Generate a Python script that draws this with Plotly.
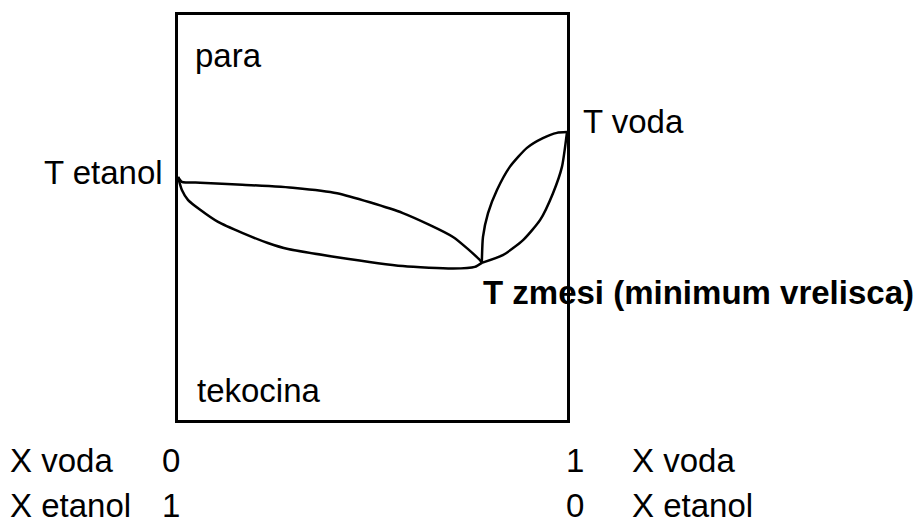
import plotly.graph_objects as go

# mole fraction of water (x) and temperature (arbitrary units, 0-100)
vap_left_x = [0, 0.010, 0.057, 0.165, 0.301, 0.409, 0.578, 0.707, 0.776, 0.781]
vap_left_T = [60.0, 58.8, 58.6, 58.1, 57.3, 56.0, 51.1, 45.2, 39.5, 38.8]

liq_left_x = [0, 0.010, 0.026, 0.057, 0.103, 0.165, 0.231, 0.283, 0.409, 0.578, 0.707, 0.763, 0.781]
liq_left_T = [60.0, 56.8, 54.3, 51.9, 48.9, 46.2, 43.7, 42.2, 40.2, 38.0, 37.4, 37.8, 38.8]

up_right_x = [0.781, 0.784, 0.797, 0.820, 0.853, 0.897, 0.938, 0.974, 1.0]
up_right_T = [38.8, 45.2, 51.1, 56.8, 62.5, 67.2, 69.6, 70.9, 71.1]

low_right_x = [0.781, 0.835, 0.887, 0.931, 0.964, 0.987, 1.0]
low_right_T = [38.8, 40.7, 44.4, 49.4, 56.0, 62.5, 71.1]

W, H = 920, 520
L, R, T, B = 178, 353, 15, 100
PW, PH = W - L - R, H - T - B

def px(x):
    return (x - L) / PW

def py(y):
    return (H - B - y) / PH

fig = go.Figure()
for xs, ts in [(vap_left_x, vap_left_T), (liq_left_x, liq_left_T),
               (up_right_x, up_right_T), (low_right_x, low_right_T)]:
    fig.add_trace(go.Scatter(x=xs, y=ts, mode="lines",
                             line=dict(color="black", width=2.5, shape="spline", smoothing=0.6),
                             hoverinfo="skip", showlegend=False))

FONT = dict(family="Liberation Sans, Arial, sans-serif", size=33, color="black")
BFONT = dict(family="Liberation Sans, Arial, sans-serif", size=33, color="black", weight="bold")

ann = [
    ("para", 194, 55, "left", FONT),
    ("tekocina", 196, 390, "left", FONT),
    ("T etanol", 164, 172, "right", FONT),
    ("T voda", 582, 122, "left", FONT),
    ("<b>T zmesi (minimum vrelisca)</b>", 482, 292, "left", BFONT),
    ("X voda", 9, 460, "left", FONT),
    ("0", 161, 460, "left", FONT),
    ("1", 565, 460, "left", FONT),
    ("X voda", 631, 460, "left", FONT),
    ("X etanol", 9, 505, "left", FONT),
    ("1", 161, 505, "left", FONT),
    ("0", 565, 505, "left", FONT),
    ("X etanol", 631, 505, "left", FONT),
]
for text, x, y, anc, f in ann:
    fig.add_annotation(text=text, x=px(x), y=py(y), xref="paper", yref="paper",
                       xanchor=anc, yanchor="middle", showarrow=False, font=f,
                       borderpad=0)

fig.update_xaxes(range=[0, 1], showline=True, mirror=True, linecolor="black", linewidth=2.5,
                 showgrid=False, zeroline=False, showticklabels=False, ticks="")
fig.update_yaxes(range=[0, 100], showline=True, mirror=True, linecolor="black", linewidth=2.5,
                 showgrid=False, zeroline=False, showticklabels=False, ticks="")
fig.update_layout(width=W, height=H, margin=dict(l=L, r=R, t=T, b=B),
                  paper_bgcolor="white", plot_bgcolor="white", showlegend=False)
fig.write_html("out.html", config={"displayModeBar": False},
               post_script="document.body.style.margin='0';document.body.style.overflow='hidden';")
